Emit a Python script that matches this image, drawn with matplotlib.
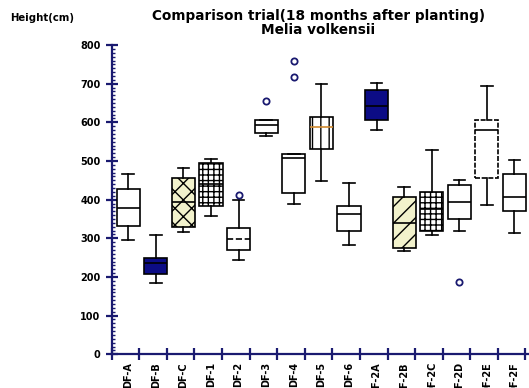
import matplotlib
matplotlib.use("Agg")
import matplotlib.pyplot as plt
from matplotlib.ticker import MultipleLocator

# data (height in cm)
labels = ["DF-A", "DF-B", "DF-C", "DF-1", "DF-2", "DF-3", "DF-4", "DF-5",
          "DF-6", "DF-2A", "DF-2B", "DF-2C", "DF-2D", "DF-2E", "DF-2F"]
whis_lo = [295, 185, 316, 358, 245, 564, 388, 448, 284, 581, 266, 308, 320, 386, 315]
q1 = [332, 208, 330, 383, 270, 573, 418, 530, 319, 605, 274, 319, 349, 455, 370]
med = [379, 235, 395, 440, 297, 594, 508, 588, 364, 642, 340, 375, 393, 580, 406]
q3 = [427, 249, 457, 495, 326, 605, 518, 614, 383, 683, 406, 421, 437, 605, 466]
whis_hi = [467, 308, 481, 504, 398, 605, 518, 698, 444, 702, 433, 528, 450, 693, 502]
fliers = [[], [], [], [], [412], [654], [717, 760], [], [], [], [], [], [188], [], []]

navy = "#1a1a70"
fill_blue = "#0c0c85"
cream = "#f2f2cc"

faces = ["white", fill_blue, cream, "white", "white", "white", "white", "white",
         "white", fill_blue, cream, "white", "white", "white", "white"]
hatches = ["", "", "xx", "+++", "", "", "", "||", "", "", "//", "+++", "", "", ""]

fig = plt.figure(figsize=(5.29, 3.88), dpi=100)
ax = fig.add_axes([0.2112, 0.0869, 0.79, 0.797])

stats = []
for i in range(len(labels)):
    stats.append({"label": labels[i], "whislo": whis_lo[i], "q1": q1[i], "med": med[i],
                  "q3": q3[i], "whishi": whis_hi[i], "fliers": fliers[i]})

pos = [i + 0.6 for i in range(len(labels))]
bp = ax.bxp(stats, positions=pos, widths=0.84, patch_artist=True, showcaps=True,
            boxprops=dict(linewidth=1.2, edgecolor="black"),
            whiskerprops=dict(linewidth=1.2, color="black"),
            capprops=dict(linewidth=1.2, color="black"),
            medianprops=dict(linewidth=1.2, color="black"),
            flierprops=dict(marker="o", markersize=4.5, markerfacecolor="none",
                            markeredgecolor=navy, markeredgewidth=1.3),
            capwidths=0.42, manage_ticks=False)

for i, box in enumerate(bp["boxes"]):
    box.set_facecolor(faces[i])
    box.set_hatch(hatches[i])
    box.set_zorder(2)
bp["medians"][4].set_linestyle("--")
bp["medians"][7].set_color("#d08a30")
bp["boxes"][13].set_linestyle((0, (3, 1)))

ax.set_xlim(0, 15.15)
ax.set_ylim(0, 800)
for s in ["top", "right"]:
    ax.spines[s].set_visible(False)
for s in ["left", "bottom"]:
    ax.spines[s].set_color(navy)
    ax.spines[s].set_linewidth(1.6)

ax.yaxis.set_major_locator(MultipleLocator(100))
ax.yaxis.set_minor_locator(MultipleLocator(10))
ax.set_xticks(range(16))
ax.set_xticklabels([])
ax.tick_params(axis="both", which="major", direction="inout", length=9, width=1.6,
               color=navy, labelsize=7)
ax.tick_params(axis="y", which="minor", direction="in", length=2.5, width=1.0, color=navy)
for t in ax.get_yticklabels():
    t.set_fontweight("bold")

for i, lab in enumerate(labels):
    ax.text(pos[i], -20, lab, rotation=90, ha="center", va="top", fontsize=7,
            fontweight="bold", clip_on=False)

fig.text(10 / 529, 1 - 18 / 388, "Height(cm)", fontsize=7.3, fontweight="bold",
         va="center", ha="left")
fig.text(318 / 529, 1 - 16 / 388, "Comparison trial(18 months after planting)",
         fontsize=9.8, fontweight="bold", va="center", ha="center")
fig.text(318 / 529, 1 - 30 / 388, "Melia volkensii", fontsize=9.8, fontweight="bold",
         va="center", ha="center")

fig.savefig("out.png", dpi=100)
